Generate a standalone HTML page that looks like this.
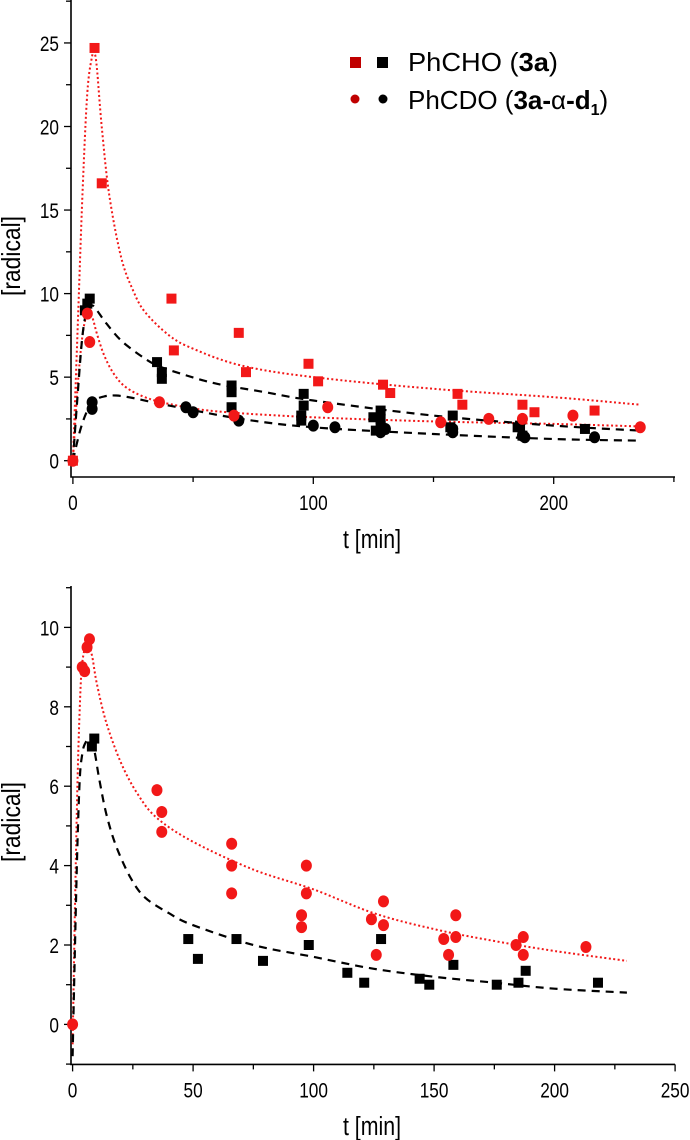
<!DOCTYPE html>
<html><head><meta charset="utf-8"><style>
html,body{margin:0;padding:0;background:#fff;}
svg{display:block;font-family:"Liberation Sans",sans-serif;}
</style></head><body>
<svg id="chart" width="690" height="1140" viewBox="0 0 690 1140" xmlns="http://www.w3.org/2000/svg"></svg>
<script>
// ===== Top chart data =====
const topRedSqX=[0,9,12,41,42,69,72,98,102,129,132,160,162,187,192,217];
const topRedSqY=[0,24.7,16.6,9.7,6.6,7.65,5.3,5.8,4.75,4.55,4.05,4.0,3.35,3.35,2.9,3.0];
const topBlkSqX=[5,6,7,35,37,37,66,66,66,96,96,95,95,125,126,128,128,128,157,158,158,185,186,187,213];
const topBlkSqY=[9.0,9.4,9.7,5.9,5.3,4.9,4.5,4.1,3.2,4.0,3.3,2.7,2.4,2.6,1.8,3.0,2.5,2.1,2.0,1.8,2.7,2.0,2.1,1.5,1.9];
const topRedCiX=[0,6,7,36,67,106,153,173,187,208,236];
const topRedCiY=[0,8.8,7.1,3.5,2.7,3.2,2.3,2.5,2.5,2.7,2.0];
const topBlkCiX=[8,8,47,50,69,100,109,128,130,158,158,187,188,217];
const topBlkCiY=[3.5,3.1,3.2,2.9,2.4,2.1,2.0,1.7,1.9,1.7,1.9,1.5,1.4,1.4];
const topFitRedAX=[0,2,4,6,8,9,10,12,15,20,25,30,40,50,70,100,150,200,236];
const topFitRedAY=[0,8,16,22,24.2,24.4,23.5,20,16,12.2,10.2,8.9,7.5,6.7,5.7,5.0,4.3,3.8,3.35];
const topFitRedBX=[0,2,4,6,8,10,13,17,22,30,40,60,100,150,200,236];
const topFitRedBY=[0,4.5,7.5,8.8,8.6,7.6,6.3,5.2,4.4,3.8,3.4,2.95,2.6,2.35,2.2,2.05];
const topFitBlkAX=[0,2,4,6,8,10,14,20,28,35,45,60,80,100,150,200,236];
const topFitBlkAY=[0,4,7.5,9.1,9.3,9.0,8.2,7.2,6.3,5.7,5.2,4.6,4.1,3.6,2.7,2.1,1.8];
const topFitBlkBX=[0,3,6,9,13,18,25,40,70,100,150,200,236];
const topFitBlkBY=[0,1.8,3.0,3.6,3.85,3.9,3.75,3.3,2.5,2.0,1.6,1.3,1.2];
const topXTicks=[0,100,200];
const topYTicks=[0,5,10,15,20,25];
// ===== Bottom chart data =====
const botRedCiX=[0,4,5,6,7,35,37,37,66,66,66,97,97,95,95,124,126,129,129,154,156,159,159,184,187,187,213];
const botRedCiY=[0,9.0,8.9,9.5,9.7,5.9,5.35,4.85,4.55,4.0,3.3,4.0,3.3,2.75,2.45,2.65,1.75,3.1,2.5,2.15,1.75,2.75,2.2,2.0,2.2,1.75,1.95];
const botBlkSqX=[8,9,48,52,68,79,98,114,121,128,144,148,158,176,185,188,218];
const botBlkSqY=[7.0,7.2,2.15,1.65,2.15,1.6,2.0,1.3,1.05,2.15,1.15,1.0,1.5,1.0,1.05,1.35,1.05];
const botFitRedX=[0,1,2,3,4,6,8,10,14,20,27,35,50,75,100,125,150,175,200,230];
const botFitRedY=[-0.5,3,6,8,9.1,9.6,9.3,8.6,7.6,6.6,5.8,5.2,4.6,3.9,3.4,2.8,2.4,2.1,1.85,1.6];
const botFitBlkX=[0,1,2,3,4,5,7,9,11,14,18,24,30,40,50,75,100,125,150,175,200,230];
const botFitBlkY=[-0.8,2,4.5,6.2,6.8,7.05,7.2,6.9,6.2,5.3,4.5,3.7,3.2,2.8,2.5,2.0,1.7,1.4,1.2,1.05,0.9,0.8];
const botXTicks=[0,50,100,150,200,250];
const botYTicks=[0,2,4,6,8,10];

const NS="http://www.w3.org/2000/svg";
const svg=document.getElementById('chart');
function mk(tag,attrs,parent){const e=document.createElementNS(NS,tag);for(const k in attrs)e.setAttribute(k,attrs[k]);(parent||svg).appendChild(e);return e;}
function smoothPath(pts){
  let d='M'+pts[0][0].toFixed(1)+','+pts[0][1].toFixed(1);
  for(let i=0;i<pts.length-1;i++){
    const p0=pts[Math.max(0,i-1)],p1=pts[i],p2=pts[i+1],p3=pts[Math.min(pts.length-1,i+2)];
    const c1x=p1[0]+(p2[0]-p0[0])/6,c1y=p1[1]+(p2[1]-p0[1])/6;
    const c2x=p2[0]-(p3[0]-p1[0])/6,c2y=p2[1]-(p3[1]-p1[1])/6;
    d+=`C${c1x.toFixed(1)},${c1y.toFixed(1)} ${c2x.toFixed(1)},${c2y.toFixed(1)} ${p2[0].toFixed(1)},${p2[1].toFixed(1)}`;
  }
  return d;
}

function drawChart(cfg){
  const g=mk('g',{});
  
  
  const sx=v=>cfg.x0+v*cfg.kx, sy=v=>cfg.y0-v*cfg.ky;
  const ax=mk('path',{d:`M${cfg.axX},${cfg.axTop}V${cfg.axY}H${cfg.axRight}`,stroke:'#000','stroke-width':1.6,fill:'none'},g);
  
  
  for(let v=cfg.xMin;v<=cfg.xMax+0.001;v+=cfg.xMinor){
    const major=cfg.xTicks.includes(v);
    mk('line',{x1:sx(v),x2:sx(v),y1:cfg.axY,y2:cfg.axY+(major?7:5),stroke:'#000','stroke-width':1.3},g);
  }
  cfg.xTicks.forEach(v=>{
    const t=mk('text',{x:sx(v),y:cfg.axY+33,'font-size':21,'text-anchor':'middle',transform:`translate(${sx(v)},0) scale(0.82,1) translate(${-sx(v)},0)`},g);
    t.textContent=v;
    
    
  });
  for(let v=cfg.yMinorStart;v<=cfg.yMax+0.001;v+=cfg.yMinor){
    const major=cfg.yTicks.includes(v);
    mk('line',{x1:cfg.axX,x2:cfg.axX-(major?7:5),y1:sy(v),y2:sy(v),stroke:'#000','stroke-width':1.3},g);
  }
  cfg.yTicks.forEach(v=>{
    const t=mk('text',{x:cfg.axX-12,y:sy(v)+8,'font-size':21,'text-anchor':'end',transform:`translate(${cfg.axX-12},0) scale(0.82,1) translate(${-(cfg.axX-12)},0)`},g);
    t.textContent=v;
    
    
  });
  const xt=mk('text',{x:372,y:cfg.xTitleY,'font-size':26,'text-anchor':'middle',transform:`translate(372,0) scale(0.82,1) translate(-372,0)`},g);
  xt.textContent='t [min]';
  
  
  const yt=mk('text',{x:0,y:0,'font-size':26,'text-anchor':'middle',transform:`translate(20,${cfg.yTitleY}) rotate(-90) scale(0.88,1)`},g);
  yt.textContent='[radical]';
  
  
  cfg.fits.forEach(f=>{
    const pts=f.x.map((v,i)=>[sx(v),sy(f.y[i])]);
    const p=mk('path',{d:smoothPath(pts),fill:'none',stroke:f.color,'stroke-width':f.dash==='dot'?2:2.2,'stroke-dasharray':f.dash==='dot'?'2,2.5':'8,6','stroke-linejoin':'round'},g);
    
    
  });
  cfg.series.forEach(s=>{
    s.x.forEach((v,i)=>{
      let e;
      if(s.shape==='sq') e=mk('rect',{x:sx(v)-5,y:sy(s.y[i])-5,width:10,height:10,fill:s.color},g);
      else e=mk('ellipse',{cx:sx(v),cy:sy(s.y[i]),rx:5.5,ry:6,fill:s.color},g);
      
      
    });
  });
}

drawChart({name:'top-chart',x0:72.9,kx:2.404,y0:460.7,ky:16.71,axX:71,axTop:0,axY:477,axRight:675,
  xMin:0,xMax:250,xMinor:50,xTicks:topXTicks,yMinorStart:0,yMax:27.5,yMinor:2.5,yTicks:topYTicks,
  xTitleY:548,yTitleY:256,
  fits:[{x:topFitRedAX,y:topFitRedAY,color:'#f21818',dash:'dot',name:'fit-phcho-red'},
        {x:topFitRedBX,y:topFitRedBY,color:'#f21818',dash:'dot',name:'fit-phcdo-red'},
        {x:topFitBlkAX,y:topFitBlkAY,color:'#000',dash:'dash',name:'fit-phcho-black'},
        {x:topFitBlkBX,y:topFitBlkBY,color:'#000',dash:'dash',name:'fit-phcdo-black'}],
  series:[{x:topBlkSqX,y:topBlkSqY,shape:'sq',color:'#000',name:'point-phcho-black'},
          {x:topBlkCiX,y:topBlkCiY,shape:'ci',color:'#000',name:'point-phcdo-black'},
          {x:topRedSqX,y:topRedSqY,shape:'sq',color:'#f21818',name:'point-phcho-red'},
          {x:topRedCiX,y:topRedCiY,shape:'ci',color:'#f21818',name:'point-phcdo-red'}]});

drawChart({name:'bottom-chart',x0:72.6,kx:2.41,y0:1024.4,ky:39.7,axX:71,axTop:586,axY:1064.4,axRight:675,
  xMin:0,xMax:250,xMinor:25,xTicks:botXTicks,yMinorStart:-1,yMax:11,yMinor:1,yTicks:botYTicks,
  xTitleY:1135,yTitleY:822,
  fits:[{x:botFitRedX,y:botFitRedY,color:'#f21818',dash:'dot',name:'fit-red'},
        {x:botFitBlkX,y:botFitBlkY,color:'#000',dash:'dash',name:'fit-black'}],
  series:[{x:botBlkSqX,y:botBlkSqY,shape:'sq',color:'#000',name:'point-black'},
          {x:botRedCiX,y:botRedCiY,shape:'ci',color:'#f21818',name:'point-red'}]});
</script>
<svg style="position:absolute;left:0;top:0" width="690" height="140" xmlns="http://www.w3.org/2000/svg">
  <rect x="350" y="57" width="11" height="11" fill="#c00000"/>
  <rect x="377" y="57" width="11" height="11" fill="#000"/>
  <text x="408" y="71" font-size="26" font-family="Liberation Sans, sans-serif" textLength="150" lengthAdjust="spacingAndGlyphs">PhCHO (<tspan font-weight="bold">3a</tspan>)</text>
  <circle cx="355" cy="99" r="4.5" fill="#c00000"/>
  <circle cx="383" cy="99" r="4.5" fill="#000"/>
  <text x="408" y="109" font-size="26" font-family="Liberation Sans, sans-serif">PhCDO (<tspan font-weight="bold">3a-</tspan>α<tspan font-weight="bold">-d</tspan><tspan font-weight="bold" font-size="16" dy="6">1</tspan><tspan dy="-6">)</tspan></text>
</svg>
</body></html>
